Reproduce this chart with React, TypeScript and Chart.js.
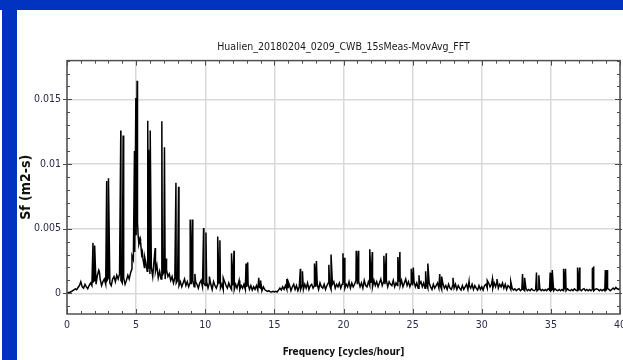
import React, { useEffect, useRef } from "react";
import { Chart, registerables } from "chart.js";

Chart.register(...registerables);

const TITLE = "Hualien_20180204_0209_CWB_15sMeas-MovAvg_FFT";
const X_TITLE = "Frequency [cycles/hour]";
const Y_TITLE = "Sf (m2-s)";

const X_MIN = 0;
const X_MAX = 40;
const Y_MIN = -0.0016;
const Y_MAX = 0.018;
const X_TICKS = [0, 5, 10, 15, 20, 25, 30, 35, 40];
const Y_TICKS = [0, 0.005, 0.01, 0.015];
const X_MINOR_STEP = 1;
const Y_MINOR_STEP = 0.001;

// spectrum values are stored in units of 1e-4 m2-s
const VALUE_UNIT = 1e-4;

// background spectrum, one value every 0.1 cycles/hour from 0 to 40
const BASE_STEP = 0.1;
const baseline = [
  0.5, 0.6, 0.8, 1.2, 2.0, 2.6, 3.4, 2.8, 4.5, 6,
  9, 5, 4, 7, 5, 3.5, 6, 8, 6, 9,
  10, 7, 14, 18, 11, 6, 9, 11, 7, 10,
  12, 8, 6, 11, 13, 9, 14, 11, 15, 10,
  8, 12, 7, 10, 14, 11, 16, 19, 26, 32,
  45, 55, 38, 42, 30, 26, 20, 24, 17, 19,
  15, 20, 13, 26, 17, 22, 12, 17, 11, 14,
  16, 11, 18, 13, 15, 10, 13, 8, 12, 8,
  10, 6, 9, 5, 8, 11, 6, 9, 5, 8,
  7, 10, 5, 9, 7, 4, 8, 10, 5, 8,
  6, 9, 4, 8, 7, 3, 9, 6, 4, 7,
  8, 4, 7, 3, 9, 6, 4, 8, 5, 3,
  6, 3, 7, 4, 8, 3, 6, 4, 7, 3,
  5, 7, 3, 6, 2.5, 5, 3, 6, 2.5, 5,
  4, 2, 5, 3, 2, 1.5, 2, 1.2, 1, 1.5,
  1, 1.5, 1, 2.5, 4, 2.5, 5, 3, 6, 3,
  4, 6, 2, 5, 7, 3, 6, 2, 5, 3,
  6, 3, 7, 4, 8, 3, 6, 7, 4, 6,
  5, 7, 3, 8, 5, 4, 7, 3, 6, 8,
  6, 3, 7, 9, 4, 7, 5, 8, 4, 7,
  8, 4, 7, 5, 9, 4, 8, 5, 7, 10,
  7, 9, 5, 8, 4, 10, 6, 5, 9, 6,
  8, 5, 10, 6, 9, 5, 8, 11, 6, 9,
  7, 10, 5, 9, 7, 6, 10, 5, 8, 6,
  9, 6, 10, 5, 8, 11, 6, 9, 5, 8,
  6, 9, 5, 8, 4, 7, 9, 5, 8, 4,
  7, 4, 8, 5, 3, 7, 4, 6, 8, 4,
  6, 3, 7, 4, 6, 3, 7, 4, 3, 6,
  4, 7, 3, 6, 4, 2.5, 6, 3, 5, 7,
  3, 6, 4, 7, 3, 6, 4, 2.5, 6, 3,
  5, 2.5, 6, 7, 4, 8, 5, 7, 4, 8,
  5, 9, 4, 7, 5, 8, 4, 7, 3, 6,
  5, 3, 4, 2.5, 3.5, 2, 3, 3.5, 2, 3,
  3, 2, 3.5, 2, 3, 2, 3.5, 2.5, 2, 3,
  2, 3, 3.5, 2, 3, 2, 3, 2, 3.5, 2.5,
  2, 3, 2, 3.5, 2.5, 2, 3, 2, 3, 2,
  3, 2, 3.5, 2.5, 2, 3, 2, 3.5, 2.5, 2,
  2, 3, 2, 3, 3.5, 2, 3, 2, 3, 2,
  3, 2, 3, 3.5, 3, 2, 3, 2, 3, 2,
  2, 3.5, 3, 2, 3, 4, 3, 4.5, 3.5, 3,
  4,
];

// narrow spectral peaks (frequency in cycles/hour, value in 1e-4 m2-s)
const spikeFreqs = [
  1.88, 2.0, 2.34, 2.87, 3.0, 3.89, 4.06, 4.7, 4.88, 4.98, 5.07, 5.15, 5.32,
  5.45, 5.62, 5.84, 5.9, 6.02, 6.38, 6.86, 7.05, 7.17, 7.88, 8.07,
  8.91, 9.06, 9.25, 9.88, 10.05, 10.3, 10.9, 11.06, 11.3, 11.9, 12.08,
  12.45, 12.95, 13.07, 13.87, 14.0, 15.9, 16.0, 16.88, 17.03, 17.9, 18.04,
  18.94, 19.1, 19.96, 20.07, 20.92, 21.06, 21.9, 22.08, 22.92, 23.09,
  23.93, 24.08, 24.9, 25.05, 25.46, 25.94, 26.1, 26.96, 27.1, 27.92,
  29.08, 30.4, 30.77, 31.1, 32.1, 32.95, 33.1, 33.96, 34.13, 34.95, 35.1,
  35.92, 36.06, 36.93, 37.08, 38.0, 38.09, 38.94, 39.06,
];
const spikeValues = [
  39, 37, 17, 86.8, 89, 126, 122, 29, 110, 151, 164.5, 44, 40,
  32, 28, 133.5, 111, 126, 35, 133, 113, 27, 85.5, 82.5,
  57, 57, 15, 50.5, 47, 13, 44, 41, 12, 31, 33,
  10, 23, 24, 12, 10, 11, 9, 19, 17, 23, 25,
  22, 30, 31, 27.5, 33, 33, 34, 32, 29, 31,
  28, 32, 19, 20, 14, 17, 23, 15, 13, 12,
  9, 10, 11, 11, 9, 15, 12, 16, 14, 16, 18,
  19, 19, 20, 20, 19, 20, 18, 18,
];

const FONT = "'DejaVu Sans Condensed', 'DejaVu Sans', sans-serif";
const BLUE = "#0033c0";

function buildPoints() {
  const pts: { x: number; y: number }[] = [];
  baseline.forEach((v, i) => pts.push({ x: Math.round(i * BASE_STEP * 100) / 100, y: v * VALUE_UNIT }));
  spikeFreqs.forEach((f, i) => pts.push({ x: f, y: spikeValues[i] * VALUE_UNIT }));
  pts.sort((a, b) => a.x - b.x);
  return pts;
}

const frameTicks = {
  id: "frameTicks",
  afterDatasetsDraw(chart: any) {
    const { ctx, chartArea, scales } = chart;
    const { left, right, top, bottom } = chartArea;
    const xs = scales.x;
    const ys = scales.y;
    ctx.save();
    ctx.strokeStyle = "#4a4a4a";
    ctx.lineWidth = 1;
    ctx.beginPath();
    const nx = Math.round((X_MAX - X_MIN) / X_MINOR_STEP);
    for (let i = 0; i <= nx; i++) {
      const v = X_MIN + i * X_MINOR_STEP;
      const px = Math.round(xs.getPixelForValue(v)) + 0.5;
      const major = X_TICKS.includes(v);
      const len = major ? 5 : 3;
      ctx.moveTo(px, bottom);
      ctx.lineTo(px, bottom - len);
      ctx.moveTo(px, top);
      ctx.lineTo(px, top + len);
    }
    const yStart = Math.ceil(Y_MIN / Y_MINOR_STEP);
    const yEnd = Math.floor(Y_MAX / Y_MINOR_STEP);
    for (let k = yStart; k <= yEnd; k++) {
      const v = Math.round(k * Y_MINOR_STEP * 10000) / 10000;
      const py = Math.round(ys.getPixelForValue(v)) + 0.5;
      const major = Y_TICKS.includes(v);
      const len = major ? 5 : 3;
      ctx.moveTo(major ? left - 4 : left, py);
      ctx.lineTo(left + len, py);
      ctx.moveTo(major ? right + 2 : right, py);
      ctx.lineTo(right - len, py);
    }
    ctx.stroke();
    ctx.lineWidth = 1.5;
    ctx.strokeStyle = "#505050";
    ctx.strokeRect(left, top, right - left, bottom - top);
    ctx.restore();
  },
};

export default function App() {
  const ref = useRef<HTMLCanvasElement | null>(null);
  useEffect(() => {
    if (!ref.current) return;
    const chart = new Chart(ref.current, {
      type: "line",
      data: {
        datasets: [
          {
            data: buildPoints(),
            borderColor: "#000000",
            borderWidth: 1.5,
            pointRadius: 0,
            tension: 0,
            fill: false,
          },
        ],
      },
      options: {
        animation: false,
        responsive: false,
        devicePixelRatio: 1,
        layout: { padding: { left: 0, right: 3, top: 0, bottom: 0 } },
        plugins: {
          legend: { display: false },
          tooltip: { enabled: false },
          title: {
            display: true,
            text: TITLE,
            fullSize: false,
            color: "#1a1a1a",
            font: { family: FONT, size: 10.5, weight: "normal" },
            padding: { top: 41, bottom: 7 },
          },
        },
        scales: {
          x: {
            type: "linear",
            min: X_MIN,
            max: X_MAX,
            afterBuildTicks: (s: any) => {
              s.ticks = X_TICKS.map((v) => ({ value: v }));
            },
            afterFit: (s: any) => {
              s.height = 46;
              s.paddingLeft = 0;
              s.paddingRight = 0;
            },
            grid: { color: "#d9d9d9", lineWidth: 1.5, drawTicks: false },
            border: { display: false },
            ticks: {
              padding: 5,
              color: "#2b2b4a",
              font: { family: FONT, size: 10.5 },
              maxRotation: 0,
              autoSkip: false,
              callback: (v: any) => `${v}`,
            },
            title: {
              display: true,
              text: X_TITLE,
              color: "#111111",
              font: { family: FONT, size: 10, weight: "bold" },
              padding: { top: 0, bottom: 2 },
            },
          },
          y: {
            type: "linear",
            min: Y_MIN,
            max: Y_MAX,
            afterBuildTicks: (s: any) => {
              s.ticks = Y_TICKS.map((v) => ({ value: v }));
            },
            afterFit: (s: any) => {
              s.width = 67;
              s.paddingTop = 0;
              s.paddingBottom = 0;
            },
            grid: { color: "#d9d9d9", lineWidth: 1.5, drawTicks: false },
            border: { display: false },
            ticks: {
              padding: 6,
              color: "#2b2b4a",
              font: { family: FONT, size: 10.5 },
              autoSkip: false,
              callback: (v: any) => `${v}`,
            },
            title: {
              display: true,
              text: Y_TITLE,
              color: "#111111",
              font: { family: FONT, size: 14, weight: "bold" },
              padding: { top: 18, bottom: 0 },
            },
          },
        },
      },
      plugins: [frameTicks],
    } as any);
    return () => chart.destroy();
  }, []);

  return (
    <div style={{ position: "fixed", left: 0, top: 0, width: 623, height: 360, background: "#ffffff", overflow: "hidden" }}>
      <canvas ref={ref} width={623} height={360} style={{ position: "absolute", left: 0, top: 0, width: 623, height: 360 }} />
      <div style={{ position: "absolute", left: 0, top: 0, width: 623, height: 10, background: BLUE }} />
      <div style={{ position: "absolute", left: 2, top: 0, width: 15, height: 360, background: BLUE }} />
    </div>
  );
}
